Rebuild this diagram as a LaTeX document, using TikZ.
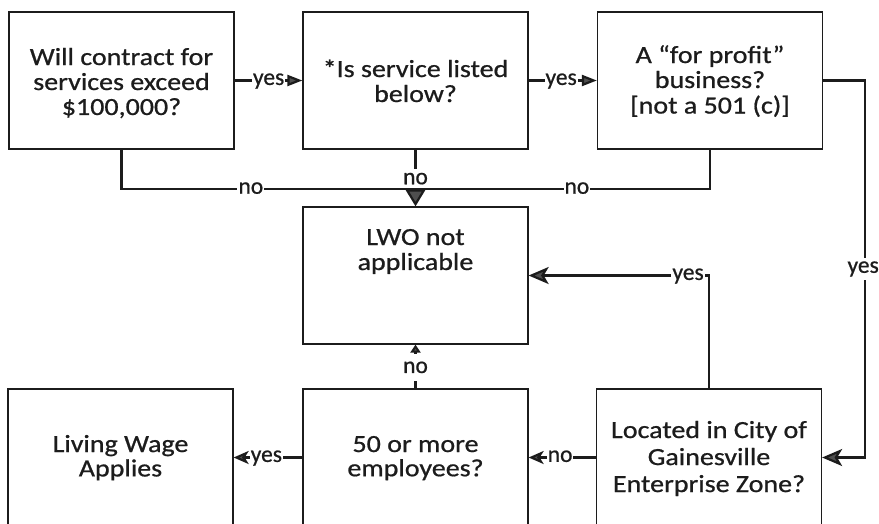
\documentclass[tikz,border=0pt]{standalone}
\usepackage{fontspec}
\usepackage{graphicx}
\setmainfont{Carlito}[FakeBold=0.7]
\usetikzlibrary{arrows.meta}
\definecolor{ink}{HTML}{1C1C1C}
\definecolor{tipfill}{HTML}{4F4F4F}
% #1 raise of first baseline above node centre, #2 unscaled line spacing, #3 lines
\newcommand{\boxtext}[3]{\raisebox{#1}[0pt][0pt]{\scalebox{1}[0.88]{\fontsize{28}{#2}\selectfont\begin{tabular}[t]{@{}c@{}}#3\end{tabular}}}}
\begin{document}
\begin{tikzpicture}[x=1pt,y=-1pt,
  box/.style={draw=ink, line width=1.3pt, minimum width=225pt, minimum height=137pt,
    inner sep=0pt, align=center, text=ink},
  conn/.style={draw=ink, line width=2.2pt},
  lab/.style={fill=white, inner sep=1pt, font=\fontsize{23.5}{25}\selectfont, text=ink},
  smalltri/.style={-{Triangle[length=15pt,width=11pt,fill=tipfill,color=ink]}},
  bigtri/.style={-{Triangle[length=17pt,width=20pt,fill=tipfill,color=ink]}},
  uptri/.style={-{Triangle[length=8pt,width=10pt,fill=tipfill,color=ink]}},
  bigstealth/.style={-{Stealth[length=20pt,width=17pt,inset=5pt,fill=tipfill,color=ink]}},
  smallstealth/.style={-{Stealth[length=15pt,width=13pt,inset=4pt,fill=tipfill,color=ink]}}
]
\useasboundingbox (0,0) rectangle (879,523);
\clip (0,0) rectangle (879,523);
\fill[white] (0,0) rectangle (879,523);

% boxes
\node[box] (B1) at (121.5,80.5) {\boxtext{15.5pt}{28.4pt}{Will contract for\\services exceed\\\$100,000?}};
\node[box] (B2) at (415.5,80.5) {\boxtext{3.5pt}{28.4pt}{*Is service listed\\below?}};
\node[box] (B3) at (710,80.5) {\boxtext{17.5pt}{28.4pt}{A “for profit”\\business?\\{[}not a 501 (c){]}}};
\node[box] (LWO) at (415.5,275.5) {\boxtext{30.5pt}{28.4pt}{LWO not\\applicable}};
\node[box] (LW) at (120.5,457.5) {\boxtext{5.5pt}{27.6pt}{Living Wage\\Applies}};
\node[box] (E50) at (415.5,457.5) {\boxtext{5.5pt}{27pt}{50 or more\\employees?}};
\node[box] (Loc) at (709,457.5) {\boxtext{19.5pt}{30.7pt}{Located in City of\\Gainesville\\Enterprise Zone?}};

% top row yes arrows
\draw[conn, smalltri] (B1.east) -- node[lab, pos=1, anchor=mid east, xshift=-16pt, yshift=-2pt] {yes} (B2.west);
\draw[conn, smalltri] (B2.east) -- node[lab, pos=1, anchor=mid east, xshift=-18pt, yshift=-2pt] {yes} (B3.west);

% no paths into LWO
\coordinate (J) at ([yshift=17pt]LWO.north);
\draw[conn] (B1.south) |- node[lab, pos=0.72, anchor=mid, yshift=-2pt] {no} (J);
\draw[conn] (B3.south) |- node[lab, pos=0.726, anchor=mid, yshift=-2pt] {no} (J);
\draw[conn] (B2.south) -- node[lab, pos=0.73, inner ysep=4pt] {no} (J);
\draw[conn, bigtri] (J) -- (LWO.north);

% right side yes to Located
\draw[conn, bigstealth] (B3.east) -- ++(42,0) |- node[lab, pos=0.25, inner ysep=3pt, xshift=-2pt] {yes} (Loc.east);

% Located yes to LWO
\draw[conn, bigstealth] (Loc.north) |- node[lab, pos=0.558, anchor=mid, yshift=-2pt] {yes} (LWO.east);

% bottom row
\draw[conn, smallstealth] (Loc.west) -- node[lab, pos=1, anchor=mid west, xshift=17pt, yshift=-2pt] {no} (E50.east);
\draw[conn, smallstealth] (E50.west) -- node[lab, pos=1, anchor=mid west, xshift=15pt, yshift=-2pt] {yes} (LW.east);
\draw[conn, uptri] (E50.north) -- node[lab, pos=0.48, inner ysep=8pt] {no} (LWO.south);
\end{tikzpicture}
\end{document}
